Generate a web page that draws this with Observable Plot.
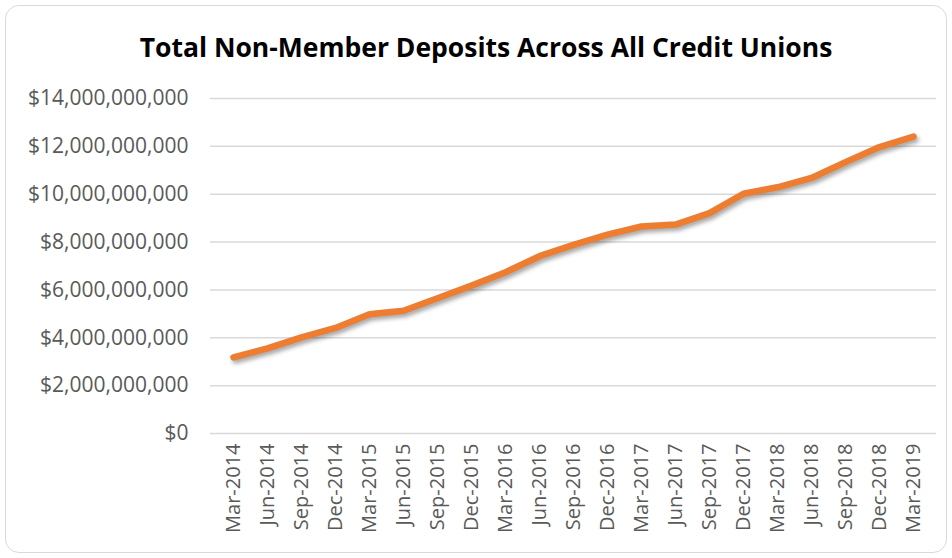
<!DOCTYPE html>
<html>
<head>
<meta charset="utf-8">
<script src="https://cdn.jsdelivr.net/npm/d3@7"></script>
<script src="https://cdn.jsdelivr.net/npm/@observablehq/plot@0.6"></script>
<style>
  html, body { margin: 0; padding: 0; background: #fff; }
  #wrap { position: relative; width: 952px; height: 558px; overflow: hidden; font-family: "Open Sans", sans-serif; }
  #frame { position: absolute; left: 5px; top: 5px; width: 940px; height: 546px; border: 1.5px solid #d9d9d9; border-radius: 14px; pointer-events: none; }
  #title { height: 75px; line-height: 1; padding-top: 34px; padding-left: 20px; box-sizing: border-box; text-align: center; font-weight: 700; font-size: 26.5px; letter-spacing: 0px; color: #000; }
  #chart svg { display: block; }
</style>
</head>
<body>
<div id="wrap">
  <div id="frame"></div>
  <div id="title">Total Non-Member Deposits Across All Credit Unions</div>
  <div id="chart"></div>
</div>
<script>
const quarters = ["Mar-2014","Jun-2014","Sep-2014","Dec-2014","Mar-2015","Jun-2015","Sep-2015","Dec-2015","Mar-2016","Jun-2016","Sep-2016","Dec-2016","Mar-2017","Jun-2017","Sep-2017","Dec-2017","Mar-2018","Jun-2018","Sep-2018","Dec-2018","Mar-2019"];
const deposits = [3.18e9, 3.56e9, 4.02e9, 4.41e9, 4.98e9, 5.13e9, 5.65e9, 6.18e9, 6.74e9, 7.41e9, 7.88e9, 8.31e9, 8.65e9, 8.73e9, 9.21e9, 10.02e9, 10.29e9, 10.68e9, 11.34e9, 11.97e9, 12.41e9];
const yTicks = [0, 2e9, 4e9, 6e9, 8e9, 10e9, 12e9, 14e9];

const data = quarters.map((q, i) => ({quarter: q, value: deposits[i]}));
const fmt = d3.format("$,.0f");

const chart = Plot.plot({
  width: 952,
  height: 483,
  marginTop: 23,
  marginBottom: 125,
  marginLeft: 210,
  marginRight: 16,
  style: {fontFamily: "Open Sans, sans-serif", fontSize: "20px", color: "#595959", background: "transparent", overflow: "visible"},
  x: {type: "point", domain: quarters, padding: 0.5, label: null},
  y: {domain: [0, 14e9], label: null},
  marks: [
    Plot.gridY(yTicks, {stroke: "#d9d9d9", strokeOpacity: 1, strokeWidth: 1.5}),
    Plot.axisY({ticks: yTicks, tickFormat: fmt, tickSize: 0, tickPadding: 22, label: null, fontSize: 21}),
    Plot.axisX({tickSize: 0, tickPadding: 10, tickRotate: -90, label: null, fontSize: 20}),
    Plot.line(data, {x: "quarter", y: "value", stroke: "#ED7D31", strokeWidth: 6.5, strokeLinecap: "round", strokeLinejoin: "round", className: "dep-line"})
  ]
});
document.getElementById("chart").appendChild(chart);
chart.querySelectorAll(".dep-line path").forEach(p => p.style.filter = "drop-shadow(2px 3px 2px rgba(0,0,0,0.35))");
</script>
</body>
</html>
